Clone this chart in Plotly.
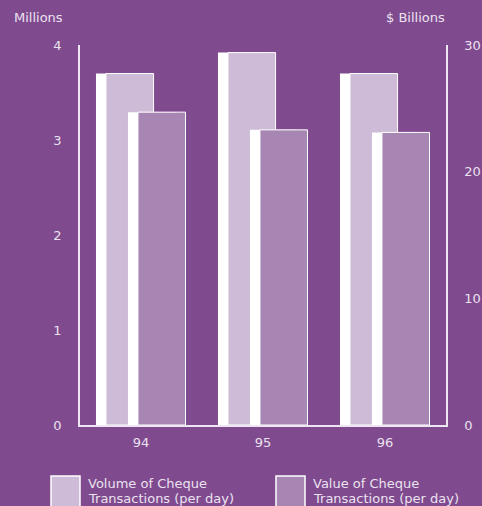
import plotly.graph_objects as go

years = ["94", "95", "96"]
volume_millions = [3.7, 3.92, 3.7]
value_billions = [24.7, 23.3, 23.1]
legend_lines = [["Volume of Cheque", "Transactions (per day)"],
                ["Value of Cheque", "Transactions (per day)"]]

BG = "#7f4a8e"
VOL_C = "#cdbbd8"
VAL_C = "#a886b4"
TXT = "#ebe2f0"
LINE = "#efe6f3"
FONT = "DejaVu Sans"

x = list(range(len(years)))
L, R, T, B = 80, 36, 45, 81
W, H = 482, 506
pw, ph = W - L - R, H - T - B

def px_x(p):
    return (p - L) / pw

def px_y(p):
    return (H - B - p) / ph

fig = go.Figure()
bw = 0.39
fig.add_bar(x=x, y=volume_millions, width=bw, offset=-0.369, marker=dict(color="white", line=dict(width=0)),
            yaxis="y", hoverinfo="skip")
fig.add_bar(x=x, y=volume_millions, width=bw, offset=-0.287, marker=dict(color=VOL_C, line=dict(color="white", width=1)),
            yaxis="y", name="Volume")
fig.add_bar(x=x, y=value_billions, width=bw, offset=-0.107, marker=dict(color="white", line=dict(width=0)),
            yaxis="y2", hoverinfo="skip")
fig.add_bar(x=x, y=value_billions, width=bw, offset=-0.025, marker=dict(color=VAL_C, line=dict(color="white", width=1)),
            yaxis="y2", name="Value")

axfont = dict(family=FONT, size=13, color=TXT)
fig.update_layout(
    width=W, height=H,
    margin=dict(l=L, r=R, t=T, b=B, pad=0, autoexpand=False),
    paper_bgcolor=BG, plot_bgcolor=BG,
    barmode="overlay", showlegend=False,
    font=axfont,
    xaxis=dict(range=[-0.5, 2.5], tickvals=x, ticktext=years, showline=True, linecolor=LINE, linewidth=1.5,
               showgrid=False, zeroline=False, ticks="", tickfont=axfont, ticklabelstandoff=5, automargin=False),
    yaxis=dict(range=[0, 4], dtick=1, showline=True, linecolor=LINE, linewidth=1.5, showgrid=False,
               zeroline=False, ticks="", tickfont=axfont, ticklabelstandoff=14, automargin=False),
    yaxis2=dict(range=[0, 30], dtick=10, overlaying="y", side="right", showline=True, linecolor=LINE,
                linewidth=1.5, showgrid=False, zeroline=False, ticks="", tickfont=axfont, ticklabelstandoff=14,
                automargin=False),
)

ann = [
    dict(text="Millions", x=px_x(12), y=px_y(18), xanchor="left"),
    dict(text="$ Billions", x=px_x(447), y=px_y(18), xanchor="right"),
]
for (px0, lines) in [(86, legend_lines[0]), (311, legend_lines[1])]:
    ann.append(dict(text=lines[0], x=px_x(px0), y=px_y(483.5), xanchor="left"))
    ann.append(dict(text=lines[1], x=px_x(px0), y=px_y(498.5), xanchor="left"))
for a in ann:
    a.update(xref="paper", yref="paper", showarrow=False, font=axfont, yanchor="middle")
fig.update_layout(annotations=ann)

shapes = []
for (x0, x1, c) in [(51, 80, VOL_C), (276, 305, VAL_C)]:
    shapes.append(dict(type="rect", xref="paper", yref="paper", x0=px_x(x0), x1=px_x(x1),
                       y0=px_y(476), y1=px_y(512), fillcolor=c, line=dict(color="white", width=1.5)))
fig.update_layout(shapes=shapes)

fig.write_html("out.html")
